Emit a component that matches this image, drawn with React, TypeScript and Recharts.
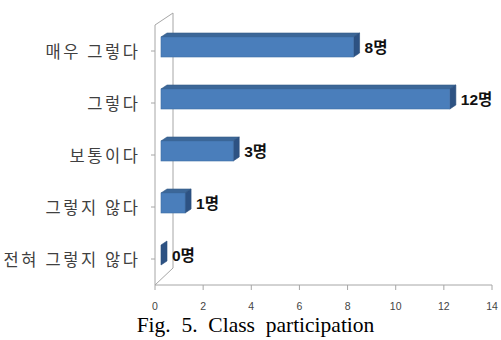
import { BarChart, Bar, XAxis, YAxis, LabelList, usePlotArea } from "recharts";

const categories = ["매우 그렇다", "그렇다", "보통이다", "그렇지 않다", "전혀 그렇지 않다"];
const counts = [8, 12, 3, 1, 0];
const countLabels = ["8명", "12명", "3명", "1명", "0명"];
const xTicks = [0, 2, 4, 6, 8, 10, 12, 14];

const data = categories.map((category, i) => ({
  category,
  count: counts[i],
  label: countLabels[i],
}));

// 3D look: bars sit a bit inside the box, with a top and a side face
const SHIFT_X = 6;
const SHIFT_Y = -4;
const DX = 6;
const DY = 4;
const AXIS = "#a6a6a6";

function Bar3D(props: any) {
  const { x, y, width, height } = props;
  const w = Math.max(width || 0, 0);
  const x0 = x + SHIFT_X;
  const y0 = y + SHIFT_Y;
  const x1 = x0 + w;
  const h = height;
  return (
    <g>
      {w > 0 && (
        <polygon
          points={`${x0},${y0} ${x1},${y0} ${x1 + DX},${y0 - DY} ${x0 + DX},${y0 - DY}`}
          fill="#3c6798"
          stroke="#345a88"
          strokeWidth={0.6}
        />
      )}
      <polygon
        points={`${x1},${y0} ${x1 + DX},${y0 - DY} ${x1 + DX},${y0 + h - DY} ${x1},${y0 + h}`}
        fill="#2d5283"
        stroke="#2a4d7a"
        strokeWidth={0.6}
      />
      {w > 0 && (
        <rect x={x0} y={y0} width={w} height={h} fill="#4a7ebb" stroke="#3f6ea6" strokeWidth={0.6} />
      )}
    </g>
  );
}

function ValueLabel(props: any) {
  const { x, y, width, height, value } = props;
  return (
    <text
      x={x + SHIFT_X + Math.max(width, 0) + DX + 5}
      y={y + SHIFT_Y + height / 2 + 1}
      dy="0.35em"
      fontSize={15.5}
      fontWeight={700}
      fontFamily="'Liberation Sans', 'Noto Sans CJK KR', sans-serif"
      fill="#111"
    >
      {value}
    </text>
  );
}

function CategoryTick(props: any) {
  const { x, y, payload } = props;
  return (
    <text
      x={x + 2.6}
      y={y + 1}
      dy="0.35em"
      textAnchor="end"
      fontSize={16.5}
      letterSpacing={2.6}
      fontFamily="'Noto Sans CJK KR', sans-serif"
      fill="#404040"
    >
      {payload.value}
    </text>
  );
}

function BoxWalls() {
  const plot = usePlotArea();
  if (!plot) return null;
  const { x, y, height } = plot;
  const bx = x + 18;
  return (
    <g stroke={AXIS} strokeWidth={1} fill="none">
      <line x1={x} y1={y} x2={bx} y2={y - 12} />
      <line x1={bx} y1={y - 12} x2={bx} y2={y + height - 17} />
      <line x1={x} y1={y + height} x2={bx} y2={y + height - 17} />
    </g>
  );
}

export default function App() {
  return (
    <div style={{ position: "absolute", left: 0, top: 0, width: 501, height: 340, background: "#fff" }}>
      <BarChart
        width={501}
        height={340}
        data={data}
        layout="vertical"
        margin={{ top: 25, right: 9, left: 0, bottom: 25 }}
        barSize={20}
      >
        <BoxWalls />
        <XAxis
          type="number"
          domain={[0, 14]}
          ticks={xTicks}
          interval={0}
          tickSize={5}
          tickMargin={13}
          height={30}
          stroke={AXIS}
          tick={{ fontSize: 10.5, fill: "#444", fontFamily: "'Liberation Sans', sans-serif" }}
        />
        <YAxis
          type="category"
          dataKey="category"
          width={155}
          tickSize={4}
          tickMargin={13}
          stroke={AXIS}
          tick={<CategoryTick />}
        />
        <Bar dataKey="count" shape={<Bar3D />} isAnimationActive={false}>
          <LabelList dataKey="label" content={<ValueLabel />} />
        </Bar>
      </BarChart>
      <div
        style={{
          position: "absolute",
          left: 0,
          width: 511,
          top: 310,
          lineHeight: "30px",
          textAlign: "center",
          fontFamily: "'Liberation Serif', serif",
          fontSize: 21.5,
          color: "#000",
          whiteSpace: "pre",
        }}
      >
        {"Fig.  5.  Class  participation"}
      </div>
    </div>
  );
}
